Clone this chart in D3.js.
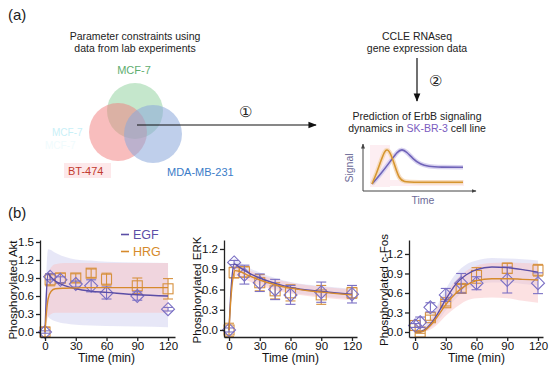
<!DOCTYPE html>
<html>
<head>
<meta charset="utf-8">
<style>
body { margin: 0; background: #fff; }
text { font-family: Arial, "Liberation Sans", sans-serif; }
</style>
</head>
<body>
<svg width="550" height="370"></svg>
<script src="https://cdn.jsdelivr.net/npm/d3@7"></script>
<script>

// ---- data: panel (b) time courses ----
var times = [0, 5, 15, 30, 45, 60, 90, 120];
var yTicks = {akt: [0, 0.3, 0.6, 0.9, 1.2, 1.5], erk: [0, 0.3, 0.6, 0.9, 1.2], fos: [0, 0.3, 0.6, 0.9, 1.2]};
var xTicks = [0, 30, 60, 90, 120];

var aktEGF = [0.0, 0.92, 0.87, 0.80, 0.77, 0.65, 0.60, 0.38];
var aktEGFerr = [0.02, 0.05, 0.05, 0.05, 0.10, 0.10, 0.07, 0.03];
var aktHRG = [0.0, 0.87, 0.90, 0.90, 0.98, 0.88, 0.77, 0.72];
var aktHRGerr = [0.08, 0.10, 0.08, 0.07, 0.07, 0.10, 0.13, 0.17];

var erkEGF = [0.0, 1.0, 0.82, 0.70, 0.60, 0.52, 0.56, 0.53];
var erkEGFerr = [0.03, 0.03, 0.14, 0.13, 0.15, 0.14, 0.15, 0.13];
var erkHRG = [0.0, 0.85, 0.86, 0.70, 0.58, 0.55, 0.52, 0.55];
var erkHRGerr = [0.10, 0.08, 0.08, 0.12, 0.12, 0.12, 0.14, 0.08];

var fosEGF = [0.10, 0.15, 0.38, 0.57, 0.75, 0.75, 0.80, 0.75];
var fosEGFerr = [0.03, 0.08, 0.07, 0.10, 0.15, 0.10, 0.20, 0.16];
var fosHRG = [0.10, 0.00, 0.22, 0.45, 0.67, 0.87, 0.98, 0.95];
var fosHRGerr = [0.03, 0.02, 0.04, 0.05, 0.06, 0.12, 0.08, 0.09];

// model fits: [time, mean, low, high]
var aktEGFfit = [[0,0,0,0],[1,0.5,0.3,0.8],[3,0.97,0.25,1.38],[5,0.93,0.22,1.37],[10,0.85,0.18,1.32],[20,0.77,0.14,1.25],[30,0.72,0.12,1.21],[45,0.68,0.11,1.19],[60,0.66,0.10,1.17],[90,0.62,0.09,1.16],[120,0.60,0.08,1.15]];
var aktHRGfit = [[0,0,0,0],[1,0.25,0.1,0.5],[3,0.55,0.25,0.95],[6,0.68,0.3,1.08],[10,0.72,0.32,1.13],[20,0.73,0.32,1.15],[40,0.74,0.32,1.15],[60,0.74,0.32,1.15],[90,0.74,0.32,1.15],[120,0.74,0.32,1.15]];
var erkEGFfit = [[0,0,0,0],[2,0.6,0.5,0.7],[5,0.98,0.9,1.06],[10,0.93,0.86,1.01],[20,0.84,0.77,0.92],[30,0.77,0.7,0.85],[45,0.69,0.62,0.77],[60,0.63,0.56,0.71],[90,0.57,0.5,0.65],[120,0.53,0.46,0.61]];
var erkHRGfit = [[0,0,0,0],[2,0.5,0.4,0.6],[6,0.88,0.8,0.96],[10,0.87,0.79,0.95],[20,0.8,0.72,0.88],[30,0.74,0.66,0.82],[45,0.67,0.59,0.75],[60,0.62,0.54,0.7],[90,0.56,0.48,0.64],[120,0.52,0.44,0.6]];
var fosEGFfit = [[0,0,0,0],[5,0.0,0,0.02],[10,0.04,0.01,0.1],[15,0.12,0.06,0.22],[22,0.28,0.16,0.42],[30,0.5,0.33,0.66],[40,0.74,0.52,0.9],[50,0.88,0.65,1.04],[60,0.96,0.72,1.1],[75,1.0,0.76,1.14],[90,0.99,0.76,1.13],[105,0.96,0.74,1.12],[120,0.92,0.72,1.1]];
var fosHRGfit = [[0,0,0,0],[5,0.0,0,0.02],[10,0.03,0.01,0.08],[15,0.1,0.04,0.18],[22,0.24,0.12,0.38],[30,0.42,0.25,0.58],[40,0.6,0.38,0.8],[50,0.72,0.48,0.94],[60,0.79,0.52,1.02],[75,0.82,0.53,1.06],[90,0.82,0.52,1.07],[105,0.81,0.48,1.06],[120,0.8,0.45,1.05]];

// mini sketch in panel (a): [t, signal]
var miniHRG = [[0,0],[0.5,0.3],[1,0.68],[1.4,0.95],[1.7,1.0],[2.1,0.85],[2.6,0.45],[3,0.15],[3.5,0.06],[4.5,0.05],[10,0.05]];
var miniEGF = [[0,0],[1,0.3],[2,0.64],[2.8,0.93],[3.3,1.0],[3.8,0.92],[4.5,0.72],[5.3,0.56],[6.2,0.5],[7.5,0.48],[10,0.48]];

var purple = "#5b4ea6", orange = "#d68a2c";
var purpleMk = "#7b70c4", orangeMk = "#d7913e";

var svg = d3.select("svg");

// ---------- panel (a) ----------
svg.append("text").attr("x", 8).attr("y", 20).attr("font-size", 15).attr("fill", "#222").text("(a)");

svg.append("text").attr("x", 135).attr("y", 40).attr("text-anchor", "middle").attr("font-size", 10.5).attr("fill", "#222").text("Parameter constraints using");
svg.append("text").attr("x", 135).attr("y", 52).attr("text-anchor", "middle").attr("font-size", 10.5).attr("fill", "#222").text("data from lab experiments");
svg.append("text").attr("x", 134).attr("y", 74).attr("text-anchor", "middle").attr("font-size", 11).attr("fill", "#5fae70").text("MCF-7");

// ghost labels
svg.append("text").attr("x", 52).attr("y", 136).attr("font-size", 10).attr("fill", "#c9f0f7").text("MCF-7");
svg.append("text").attr("x", 45).attr("y", 149).attr("font-size", 10).attr("fill", "#f0fbfd").text("MCF-7");

var venn = svg.append("g");
venn.append("circle").attr("cx", 135).attr("cy", 111).attr("r", 28).attr("fill", "#95d3a2").attr("fill-opacity", 0.55);
venn.append("circle").attr("cx", 118).attr("cy", 132).attr("r", 29).attr("fill", "#f27b7b").attr("fill-opacity", 0.5);
venn.append("circle").attr("cx", 153).attr("cy", 134).attr("r", 29).attr("fill", "#8aa7db").attr("fill-opacity", 0.55);

svg.append("rect").attr("x", 64).attr("y", 163).attr("width", 47).attr("height", 15).attr("fill", "#fde8ea");
svg.append("text").attr("x", 68).attr("y", 175).attr("font-size", 11).attr("fill", "#c23b2e").text("BT-474");
svg.append("text").attr("x", 167).attr("y", 176).attr("font-size", 11).attr("fill", "#3b7cc8").text("MDA-MB-231");

var defs = svg.append("defs");
defs.append("marker").attr("id", "arr").attr("viewBox", "0 0 10 10").attr("refX", 9).attr("refY", 5)
  .attr("markerWidth", 7).attr("markerHeight", 7).attr("orient", "auto")
  .append("path").attr("d", "M0,1L10,5L0,9Z").attr("fill", "#111");
defs.append("marker").attr("id", "arrs").attr("viewBox", "0 0 10 10").attr("refX", 9).attr("refY", 5)
  .attr("markerWidth", 5).attr("markerHeight", 5).attr("orient", "auto")
  .append("path").attr("d", "M0,1L10,5L0,9Z").attr("fill", "#444");

svg.append("line").attr("x1", 137).attr("y1", 125).attr("x2", 316).attr("y2", 125)
  .attr("stroke", "#111").attr("stroke-width", 1.2).attr("marker-end", "url(#arr)");
svg.append("text").attr("x", 245).attr("y", 117).attr("text-anchor", "middle").attr("font-size", 15).attr("fill", "#222").text("\u2460");

svg.append("text").attr("x", 417).attr("y", 40).attr("text-anchor", "middle").attr("font-size", 10.5).attr("fill", "#222").text("CCLE RNAseq");
svg.append("text").attr("x", 417).attr("y", 52).attr("text-anchor", "middle").attr("font-size", 10.5).attr("fill", "#222").text("gene expression data");
svg.append("line").attr("x1", 417).attr("y1", 58).attr("x2", 417).attr("y2", 101)
  .attr("stroke", "#111").attr("stroke-width", 1.2).attr("marker-end", "url(#arr)");
svg.append("text").attr("x", 435).attr("y", 86).attr("text-anchor", "middle").attr("font-size", 15).attr("fill", "#222").text("\u2461");

svg.append("text").attr("x", 417).attr("y", 120).attr("text-anchor", "middle").attr("font-size", 10.5).attr("fill", "#222").text("Prediction of ErbB signaling");
var t2 = svg.append("text").attr("x", 417).attr("y", 132).attr("text-anchor", "middle").attr("font-size", 10.5).attr("fill", "#222");
t2.append("tspan").text("dynamics in ");
t2.append("tspan").attr("fill", "#7a5cc0").text("SK-BR-3");
t2.append("tspan").text(" cell line");

// mini sketch
var mx = d3.scaleLinear().domain([0, 10]).range([372, 463]);
var my = d3.scaleLinear().domain([0, 1]).range([184, 149]);
svg.append("rect").attr("x", 370).attr("y", 145).attr("width", 20).attr("height", 42).attr("fill", "#fdeef2");
svg.append("rect").attr("x", 390).attr("y", 180).attr("width", 74).attr("height", 6).attr("fill", "#fdeef2");
var mline = d3.line().x(function(d) { return mx(d[0]); }).y(function(d) { return my(d[1]); }).curve(d3.curveBasis);
svg.append("path").attr("d", mline(miniEGF)).attr("fill", "none").attr("stroke", "#d9d3f0").attr("stroke-width", 4.5);
svg.append("path").attr("d", mline(miniHRG)).attr("fill", "none").attr("stroke", "#f6dcc0").attr("stroke-width", 4.5);
svg.append("path").attr("d", mline(miniEGF)).attr("fill", "none").attr("stroke", "#6f63b8").attr("stroke-width", 1.6);
svg.append("path").attr("d", mline(miniHRG)).attr("fill", "none").attr("stroke", "#d6952f").attr("stroke-width", 1.6);
svg.append("line").attr("x1", 363).attr("y1", 191).attr("x2", 363).attr("y2", 144).attr("stroke", "#444").attr("stroke-width", 1).attr("marker-end", "url(#arrs)");
svg.append("line").attr("x1", 363).attr("y1", 191).attr("x2", 476).attr("y2", 191).attr("stroke", "#444").attr("stroke-width", 1).attr("marker-end", "url(#arrs)");
svg.append("text").attr("transform", "translate(353,168) rotate(-90)").attr("text-anchor", "middle").attr("font-size", 10.5).attr("fill", "#6d6b98").text("Signal");
svg.append("text").attr("x", 423).attr("y", 204).attr("text-anchor", "middle").attr("font-size", 10.5).attr("fill", "#6d6b98").text("Time");

// ---------- panel (b) ----------
svg.append("text").attr("x", 8).attr("y", 218).attr("font-size", 15).attr("fill", "#222").text("(b)");

function panel(cfg) {
  var g = svg.append("g");
  var x = d3.scaleLinear().domain(cfg.xd).range([cfg.left, cfg.right]);
  var y = d3.scaleLinear().domain(cfg.yd).range([337, 240]);

  var area = d3.area().x(function(d) { return x(d[0]); }).y0(function(d) { return y(d[2]); }).y1(function(d) { return y(d[3]); }).curve(d3.curveMonotoneX);
  var line = d3.line().x(function(d) { return x(d[0]); }).y(function(d) { return y(d[1]); }).curve(d3.curveMonotoneX);

  g.append("path").attr("d", area(cfg.egfFit)).attr("fill", "#c9c9ee").attr("fill-opacity", 0.45);
  g.append("path").attr("d", area(cfg.hrgFit)).attr("fill", "#f9c3c6").attr("fill-opacity", 0.5);

  function points(vals, errs, col, shape) {
    var pg = g.append("g").attr("stroke", col).attr("fill", "none").attr("stroke-width", 1.1);
    times.forEach(function(t, i) {
      var cx = x(t), cy = y(vals[i]);
      var lo = y(vals[i] - errs[i]), hi = y(vals[i] + errs[i]);
      pg.append("line").attr("x1", cx).attr("x2", cx).attr("y1", lo).attr("y2", hi);
      pg.append("line").attr("x1", cx - 5).attr("x2", cx + 5).attr("y1", lo).attr("y2", lo);
      pg.append("line").attr("x1", cx - 5).attr("x2", cx + 5).attr("y1", hi).attr("y2", hi);
      if (shape === "d") {
        pg.append("path").attr("d", "M" + cx + "," + (cy - 6.5) + "L" + (cx + 6.5) + "," + cy + "L" + cx + "," + (cy + 6.5) + "L" + (cx - 6.5) + "," + cy + "Z");
      } else {
        pg.append("rect").attr("x", cx - 5).attr("y", cy - 5).attr("width", 10).attr("height", 10);
      }
    });
  }
  points(cfg.hrg, cfg.hrgErr, orangeMk, "s");
  points(cfg.egf, cfg.egfErr, purpleMk, "d");

  g.append("path").attr("d", line(cfg.egfFit)).attr("fill", "none").attr("stroke", purple).attr("stroke-width", 1.4);
  g.append("path").attr("d", line(cfg.hrgFit)).attr("fill", "none").attr("stroke", orange).attr("stroke-width", 1.4);

  var ax = g.append("g").attr("transform", "translate(0,337)")
    .call(d3.axisBottom(x).tickValues(xTicks).tickSize(4).tickSizeOuter(0));
  var ay = g.append("g").attr("transform", "translate(" + cfg.left + ",0)")
    .call(d3.axisLeft(y).tickValues(cfg.yt).tickFormat(d3.format(".1f")).tickSize(4).tickSizeOuter(0));
  [ax, ay].forEach(function(a) {
    a.selectAll("path, line").attr("stroke", "#222").attr("stroke-width", 1.3);
    a.selectAll("text").attr("font-size", 11.5).attr("fill", "#111").attr("font-family", "Arial, 'Liberation Sans', sans-serif");
  });
  ax.selectAll("text").attr("y", 5);
  ay.selectAll("text").attr("x", -6);

  g.append("text").attr("x", (x(0) + x(120)) / 2).attr("y", 362).attr("text-anchor", "middle")
    .attr("font-size", 12).attr("fill", "#111").text("Time (min)");
  g.append("text").attr("transform", "translate(" + cfg.labX + ",290) rotate(-90)").attr("text-anchor", "middle")
    .attr("font-size", 11.5).attr("fill", "#111").text(cfg.label);
}

panel({left: 40, right: 175, xd: [-4.9, 126.8], yd: [-0.083, 1.533], yt: yTicks.akt,
  egf: aktEGF, egfErr: aktEGFerr, hrg: aktHRG, hrgErr: aktHRGerr,
  egfFit: aktEGFfit, hrgFit: aktHRGfit, label: "Phosphorylated Akt", labX: 17});
panel({left: 224, right: 357, xd: [-4.9, 124.9], yd: [-0.104, 1.333], yt: yTicks.erk,
  egf: erkEGF, egfErr: erkEGFerr, hrg: erkHRG, hrgErr: erkHRGerr,
  egfFit: erkEGFfit, hrgFit: erkHRGfit, label: "Phosphorylated ERK", labX: 201});
panel({left: 409, right: 543, xd: [-5.9, 124.9], yd: [-0.077, 1.415], yt: yTicks.fos,
  egf: fosEGF, egfErr: fosEGFerr, hrg: fosHRG, hrgErr: fosHRGerr,
  egfFit: fosEGFfit, hrgFit: fosHRGfit, label: "Phosphorylated c-Fos", labX: 388});

// legend
var leg = svg.append("g");
[["EGF", purple, 239], ["HRG", orange, 256]].forEach(function(l) {
  leg.append("line").attr("x1", 121).attr("x2", 129).attr("y1", l[2] - 4.5).attr("y2", l[2] - 4.5).attr("stroke", l[1]).attr("stroke-width", 1.6);
  leg.append("text").attr("x", 133).attr("y", l[2]).attr("font-size", 12.5).attr("fill", l[1]).text(l[0]);
});

</script>
</body>
</html>
